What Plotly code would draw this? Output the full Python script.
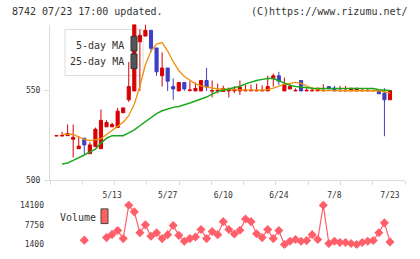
import plotly.graph_objects as go

W, H = 420, 259

# ---- data -------------------------------------------------------------
day_idx = list(range(61))
x_tick_pos = [10, 20, 30, 40, 50, 60]
x_tick_text = ["5/13", "5/27", "6/10", "6/24", "7/8", "7/23"]
price_ticks = [500, 550]
vol_ticks = [1400, 7750, 14100]

opens = [524.6, 524.6, 524.8, 522.8, 517.6, 523.4, 514.8, 518.8, 517.6, 529.7,
         529.7, 529.3, 537.5, 544.7, 549.6, 576.8, 580.0, 583.2, 573.4, 558.0,
         562.3, 552.0, 549.6, 554.3, 549.8, 549.6, 549.6, 555.4, 549.5, 549.6,
         549.3, 549.6, 549.6, 549.6, 549.6, 549.6, 549.6, 549.6, 549.6, 556.5,
         558.0, 549.6, 550.7, 549.6, 555.4, 549.6, 549.6, 549.6, 549.6, 552.0,
         551.1, 549.6, 549.6, 549.6, 549.6, 549.6, 549.6, 549.6, 549.6, 548.4,
         544.7]
highs = [525.0, 527.0, 531.0, 531.0, 524.5, 523.4, 521.2, 529.3, 539.3, 533.3,
         532.0, 540.2, 540.2, 565.6, 586.4, 583.7, 586.4, 583.2, 573.4, 571.0,
         562.3, 556.5, 554.3, 554.3, 555.0, 554.3, 555.4, 562.4, 555.4, 553.6,
         552.5, 551.5, 552.2, 555.4, 553.1, 553.1, 553.6, 552.7, 558.0, 559.2,
         560.2, 557.0, 553.3, 551.0, 555.4, 551.1, 551.6, 551.1, 553.3, 552.0,
         552.4, 552.4, 552.4, 551.1, 551.1, 551.1, 551.1, 550.0, 549.6, 551.1,
         549.8]
lows = [524.6, 524.6, 524.8, 512.7, 517.6, 514.5, 514.8, 518.8, 517.6, 529.7,
        529.7, 529.3, 537.5, 543.5, 549.6, 549.6, 580.0, 571.0, 558.0, 552.0,
        549.6, 544.7, 549.6, 549.6, 549.3, 549.6, 549.6, 549.6, 546.0, 548.2,
        549.3, 546.0, 548.5, 547.4, 549.6, 549.6, 549.6, 549.6, 549.6, 552.0,
        552.9, 549.6, 550.7, 549.6, 549.6, 549.6, 549.6, 549.6, 549.6, 550.7,
        549.6, 549.6, 549.6, 549.6, 549.6, 549.6, 549.6, 549.6, 548.0, 524.5,
        544.7]
closes = [524.9, 524.9, 526.0, 523.9, 519.0, 519.7, 519.7, 528.4, 533.3, 532.1,
          531.0, 538.4, 540.2, 552.0, 586.4, 580.4, 583.2, 573.2, 560.2, 562.3,
          555.0, 550.7, 554.3, 550.7, 550.1, 551.0, 555.4, 551.8, 549.8, 549.9,
          551.0, 549.9, 550.5, 551.5, 549.9, 549.9, 549.9, 549.9, 552.0, 558.0,
          555.0, 553.3, 552.0, 549.9, 549.6, 549.9, 549.9, 551.1, 549.9, 550.7,
          549.6, 549.9, 549.9, 551.1, 551.1, 549.9, 549.9, 549.9, 548.0, 544.7,
          549.8]
ma5 = [None, 525.7, 525.7, 525.5, 524.2, 522.8, 522.1, 522.6, 523.1, 525.5,
       527.7, 529.9, 532.3, 535.9, 542.4, 552.2, 564.1, 571.7, 575.5, 576.4,
       571.7, 565.8, 560.9, 557.6, 555.4, 553.5, 552.4, 551.6, 551.1, 550.8,
       550.5, 550.3, 550.2, 550.2, 550.0, 550.0, 550.0, 550.0, 550.3, 551.1,
       552.4, 553.3, 553.8, 554.3, 553.8, 552.4, 551.1, 550.3, 549.8, 549.8,
       549.8, 549.8, 549.8, 549.8, 549.8, 549.8, 549.8, 549.8, 549.7, 549.2,
       548.4]
ma25 = [None, 509.1, 509.7, 511.1, 512.5, 514.1, 515.8, 517.4, 520.7, 523.4,
        524.8, 524.8, 524.8, 526.4, 528.0, 530.3, 532.6, 534.8, 537.0, 538.6,
        539.7, 540.5, 541.0, 541.8, 542.9, 544.0, 545.1, 546.2, 547.8, 549.3,
        550.0, 550.7, 551.5, 552.2, 553.5, 554.6, 555.4, 556.0, 556.5, 556.5,
        555.2, 553.8, 552.7, 552.0, 551.6, 551.2, 551.1, 550.9, 550.9, 550.9,
        550.9, 550.9, 550.9, 550.9, 550.9, 550.9, 550.9, 550.9, 550.2, 549.8,
        549.8]
volume = [None, None, None, None, None, 2800, None, None, None, 3620,
          4670, 5940, 3300, 14100, 11970, 5210, 7750, 4040, 5210, 3300,
          4575, 7530, 4350, 2450, 3300, 3810, 6260, 3300, 5620, 4575,
          8800, 6260, 4770, 6000, 9650, 8800, 4890, 3620, 6260, 3300,
          5940, 1400, 2450, 2990, 2450, 2650, 4575, 2990, 14100, 1720,
          2450, 2035, 2035, 1720, 1400, 2035, 2450, 2700, 5200, 8400,
          2230]

# ---- styling ----------------------------------------------------------
RED = "#d80000"
BLUE = "#3f3fc2"
ORANGE = "#f0900a"
GREEN = "#1aa81a"
VOLC = "#ff5f69"
AXC = "#dcdcdc"
TXT = "#333333"
MONO = "DejaVu Sans Mono"

def px(x):
    return x / W

def py(y):
    return 1 - y / H

xr = [-1.17, 62.7]
n_minor = 12
minor_vals = [xr[0] + k * (xr[1] - xr[0]) / (n_minor - 1) for k in range(n_minor)]

fig = go.Figure()
fig.add_trace(go.Scatter(x=day_idx, y=ma5, mode="lines",
                         line=dict(color=ORANGE, width=1.3), xaxis="x", yaxis="y",
                         hoverinfo="skip"))
fig.add_trace(go.Scatter(x=day_idx, y=ma25, mode="lines",
                         line=dict(color=GREEN, width=1.5), xaxis="x", yaxis="y",
                         hoverinfo="skip"))
fig.add_trace(go.Candlestick(x=day_idx, open=opens, high=highs, low=lows, close=closes,
                             increasing=dict(line=dict(color=RED, width=1), fillcolor=RED),
                             decreasing=dict(line=dict(color=BLUE, width=1), fillcolor=BLUE),
                             whiskerwidth=0, xaxis="x", yaxis="y"))
fig.add_trace(go.Scatter(x=day_idx, y=volume, mode="lines+markers",
                         line=dict(color=VOLC, width=1.2),
                         marker=dict(symbol="diamond", size=7, color=VOLC),
                         connectgaps=False, xaxis="x2", yaxis="y2"))

fig.update_layout(
    width=W, height=H,
    margin=dict(l=0, r=0, t=0, b=0),
    paper_bgcolor="white", plot_bgcolor="rgba(0,0,0,0)",
    showlegend=False,
    boxgap=0.2,
    font=dict(family=MONO, size=8, color=TXT),
    xaxis=dict(domain=[px(50), px(405)], range=xr, rangeslider=dict(visible=False),
               showgrid=False, zeroline=False, showline=True, linecolor=AXC, linewidth=1,
               tickmode="array", tickvals=x_tick_pos, ticktext=x_tick_text,
               ticks="outside", ticklen=4, tickcolor="rgba(0,0,0,0)",
               ticklabelstandoff=3,
               tickfont=dict(family=MONO, size=8, color=TXT),
               minor=dict(tickmode="array", tickvals=minor_vals, ticks="outside",
                          ticklen=4, tickcolor=AXC, showgrid=False),
               anchor="y"),
    yaxis=dict(domain=[py(184), py(25)], range=[500, 586.4],
               showgrid=False, zeroline=False, showline=True, linecolor=AXC, linewidth=1,
               tickmode="array", tickvals=price_ticks,
               ticktext=[str(v) for v in price_ticks],
               ticks="outside", ticklen=5, tickcolor=AXC,
               ticklabelstandoff=2,
               tickfont=dict(family=MONO, size=8, color=TXT), anchor="x"),
    xaxis2=dict(domain=[px(50), px(405)], range=xr, matches="x",
                showgrid=False, zeroline=False, showline=False, showticklabels=False,
                ticks="", anchor="y2"),
    yaxis2=dict(domain=[py(253.7), py(203.95)], range=[0, 15800],
                showgrid=False, zeroline=False, showline=False,
                tickmode="array", tickvals=vol_ticks,
                ticktext=[str(v) for v in vol_ticks], ticks="",
                ticklabelstandoff=5,
                tickfont=dict(family=MONO, size=8, color=TXT), anchor="x2"),
)

shapes = [
    # legend box for moving averages
    dict(type="rect", xref="paper", yref="paper", x0=px(65), x1=px(143), y0=py(77), y1=py(30),
         line=dict(color=AXC, width=1), fillcolor="white", layer="below"),
    dict(type="rect", xref="paper", yref="paper", x0=px(131), x1=px(137), y0=py(52), y1=py(37),
         line=dict(color="#333", width=1), fillcolor="#555", layer="above"),
    dict(type="rect", xref="paper", yref="paper", x0=px(131), x1=px(137), y0=py(70), y1=py(55),
         line=dict(color="#333", width=1), fillcolor="#555", layer="above"),
    # volume legend swatch
    dict(type="rect", xref="paper", yref="paper", x0=px(101), x1=px(108), y0=py(228), y1=py(213),
         line=dict(color="#444", width=1), fillcolor="#ff6060", layer="above"),
]
fig.update_layout(shapes=shapes)

ann = [
    dict(text="8742 07/23 17:00 updated.", x=px(10), y=py(12), xanchor="left", size=10),
    dict(text="(C)https://www.rizumu.net/", x=px(410), y=py(12), xanchor="right", size=10),
    dict(text="5-day MA", x=px(126), y=py(46), xanchor="right", size=10),
    dict(text="25-day MA", x=px(126), y=py(63), xanchor="right", size=10),
    dict(text="Volume", x=px(58), y=py(222), xanchor="left", size=10),
]
fig.update_layout(annotations=[
    dict(text=a["text"], x=a["x"], y=a["y"], xref="paper", yref="paper",
         xanchor=a["xanchor"], yanchor="middle", showarrow=False,
         font=dict(family=MONO, size=a["size"], color=TXT))
    for a in ann
])

fig.write_html("out.html")
